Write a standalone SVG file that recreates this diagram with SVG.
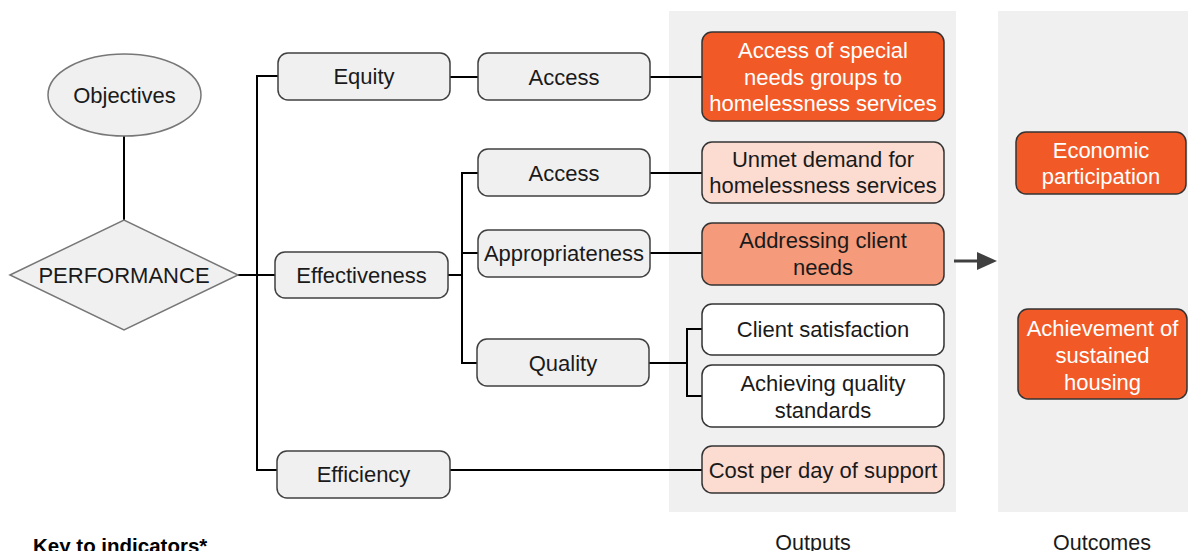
<svg xmlns="http://www.w3.org/2000/svg" width="1188" height="551" viewBox="0 0 1188 551">
<style>
text{font-family:"Liberation Sans",Arial,sans-serif;font-size:22px;text-anchor:middle;fill:#1a1a1a}
.panel{fill:#f0f0f0}
.g{fill:#f0f0f0;stroke:#404040;stroke-width:1.5}
.soft{fill:#f0f0f0;stroke:#777;stroke-width:1.5}
.dark{fill:#f15a27;stroke:#333;stroke-width:1.5}
.mid{fill:#f59a7a;stroke:#333;stroke-width:1.5}
.light{fill:#fcdcd1;stroke:#333;stroke-width:1.5}
.white{fill:#fff;stroke:#333;stroke-width:1.5}
.w{fill:#fff}
.conn line,.conn polyline{stroke:#000;stroke-width:2;fill:none}
.lbl{font-size:21.5px}
</style>
<rect class="panel" x="669" y="11" width="287" height="501"/>
<rect class="panel" x="998" y="11" width="190" height="501"/>
<g class="conn" id="connectors">
<line x1="124" y1="136" x2="124" y2="220"/>
<line x1="238" y1="275" x2="275" y2="275"/>
<polyline points="278,76 257,76 257,470 277,470"/>
<line x1="450" y1="77" x2="478" y2="77"/>
<line x1="448" y1="275" x2="462" y2="275"/>
<polyline points="478,173 462,173 462,363 477,363"/>
<line x1="462" y1="253" x2="478" y2="253"/>
<line x1="650" y1="77" x2="702" y2="77"/>
<line x1="650" y1="173" x2="702" y2="173"/>
<line x1="650" y1="253" x2="702" y2="253"/>
<line x1="649" y1="363" x2="687" y2="363"/>
<polyline points="702,329 687,329 687,396 702,396"/>
<line x1="450" y1="470" x2="702" y2="470"/>
<line x1="954" y1="261" x2="980" y2="261" style="stroke:#404040;stroke-width:3"/>
<polygon points="977,252 997,261 977,270" style="fill:#404040;stroke:none"/>
</g>
<g id="objectives"><ellipse class="soft" cx="124.5" cy="95" rx="76.5" ry="41"/><text x="124.5" y="103">Objectives</text></g>
<g id="performance"><polygon class="soft" points="10,275 124,220 238,275 124,330"/><text x="124" y="283">PERFORMANCE</text></g>
<g id="equity"><rect class="g" x="278" y="53" width="172" height="47" rx="10"/><text x="364" y="84">Equity</text></g>
<g id="effectiveness"><rect class="g" x="275" y="252" width="173" height="46" rx="10"/><text x="361.5" y="283">Effectiveness</text></g>
<g id="efficiency"><rect class="g" x="277" y="451" width="173" height="47" rx="10"/><text x="363.5" y="482">Efficiency</text></g>
<g id="access1"><rect class="g" x="478" y="53" width="172" height="47" rx="10"/><text x="564" y="85">Access</text></g>
<g id="access2"><rect class="g" x="478" y="149" width="172" height="47" rx="10"/><text x="564" y="181">Access</text></g>
<g id="appropriateness"><rect class="g" x="478" y="230" width="172" height="47" rx="10"/><text x="564" y="261">Appropriateness</text></g>
<g id="quality"><rect class="g" x="477" y="339" width="172" height="47" rx="10"/><text x="563" y="371">Quality</text></g>
<g id="special-needs"><rect class="dark" x="702" y="32" width="242" height="89" rx="10"/><text class="w" x="823" y="58">Access of special</text><text class="w" x="823" y="85">needs groups to</text><text class="w" x="823" y="111">homelessness services</text></g>
<g id="unmet"><rect class="light" x="702" y="142" width="242" height="61" rx="10"/><text x="823" y="167">Unmet demand for</text><text x="823" y="193">homelessness services</text></g>
<g id="addressing"><rect class="mid" x="702" y="223" width="242" height="62" rx="10"/><text x="823" y="248">Addressing client</text><text x="823" y="275">needs</text></g>
<g id="client-satisfaction"><rect class="white" x="702" y="304" width="242" height="51" rx="10"/><text x="823" y="337">Client satisfaction</text></g>
<g id="quality-standards"><rect class="white" x="702" y="365" width="242" height="62" rx="10"/><text x="823" y="391">Achieving quality</text><text x="823" y="418">standards</text></g>
<g id="cost"><rect class="light" x="702" y="446" width="242" height="47" rx="10"/><text x="823" y="478">Cost per day of support</text></g>
<g id="economic"><rect class="dark" x="1016" y="132" width="170" height="62" rx="10"/><text class="w" x="1101" y="158">Economic</text><text class="w" x="1101" y="184">participation</text></g>
<g id="housing"><rect class="dark" x="1018" y="309" width="169" height="90" rx="10"/><text class="w" x="1102.5" y="336">Achievement of</text><text class="w" x="1102.5" y="363">sustained</text><text class="w" x="1102.5" y="390">housing</text></g>
<text class="lbl" x="813" y="550">Outputs</text>
<text class="lbl" x="1102" y="550">Outcomes</text>
<text x="33" y="553" style="text-anchor:start;font-weight:bold;font-size:20.5px;fill:#000">Key to indicators*</text>
</svg>
